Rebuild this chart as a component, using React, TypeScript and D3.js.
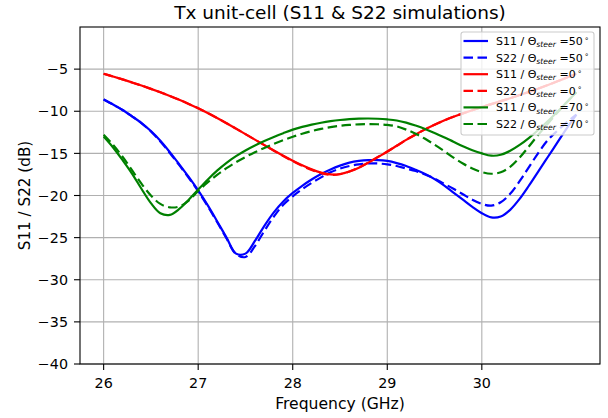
import React from "react";
import * as d3 from "d3";

const freq = [26.0, 26.1, 26.2, 26.3, 26.4, 26.5, 26.6, 26.7, 26.8, 26.9, 27.0, 27.1, 27.2, 27.3, 27.4, 27.5, 27.6, 27.7, 27.8, 27.9, 28.0, 28.1, 28.2, 28.3, 28.4, 28.5, 28.6, 28.7, 28.8, 28.9, 29.0, 29.1, 29.2, 29.3, 29.4, 29.5, 29.6, 29.7, 29.8, 29.9, 30.0, 30.1, 30.2, 30.3, 30.4, 30.5, 30.6, 30.7, 30.8, 30.9, 31.0];

const s11_50 = [-8.6, -9.2, -9.85, -10.6, -11.4, -12.35, -13.5, -14.85, -16.3, -17.8, -19.4, -21.15, -23.05, -25.0, -26.9, -26.9, -25.4, -23.6, -22.0, -20.7, -19.7, -18.85, -18.1, -17.45, -16.9, -16.45, -16.1, -15.9, -15.8, -15.8, -15.9, -16.15, -16.5, -16.95, -17.45, -18.05, -18.8, -19.65, -20.5, -21.35, -22.1, -22.6, -22.5, -21.7, -20.4, -18.8, -17.1, -15.4, -13.7, -12.0, -10.4];
const s22_50 = [-8.6, -9.2, -9.85, -10.6, -11.4, -12.4, -13.6, -14.95, -16.4, -17.9, -19.5, -21.25, -23.15, -25.1, -26.95, -27.3, -26.0, -24.2, -22.5, -21.1, -20.1, -19.25, -18.5, -17.85, -17.25, -16.8, -16.5, -16.3, -16.2, -16.2, -16.3, -16.5, -16.8, -17.1, -17.5, -18.0, -18.6, -19.2, -19.85, -20.5, -21.0, -21.2, -20.8, -19.8, -18.3, -16.6, -14.9, -13.4, -12.3, -11.3, -10.4];
const s11_0 = [-5.55, -5.88, -6.22, -6.58, -6.95, -7.34, -7.75, -8.18, -8.64, -9.13, -9.65, -10.21, -10.8, -11.42, -12.06, -12.71, -13.37, -14.02, -14.66, -15.28, -15.87, -16.42, -16.9, -17.28, -17.5, -17.45, -17.15, -16.7, -16.1, -15.45, -14.8, -14.1, -13.4, -12.75, -12.15, -11.6, -11.1, -10.65, -10.25, -9.87, -9.5, -9.15, -8.8, -8.45, -8.08, -7.7, -7.3, -6.88, -6.45, -6.0, -5.55];
const s22_0 = [-5.55, -5.88, -6.22, -6.58, -6.95, -7.34, -7.75, -8.18, -8.64, -9.13, -9.65, -10.21, -10.8, -11.42, -12.06, -12.71, -13.37, -14.02, -14.68, -15.31, -15.92, -16.48, -16.96, -17.34, -17.55, -17.48, -17.15, -16.68, -16.08, -15.43, -14.78, -14.1, -13.4, -12.75, -12.15, -11.6, -11.1, -10.65, -10.25, -9.87, -9.5, -9.15, -8.8, -8.45, -8.08, -7.7, -7.3, -6.88, -6.45, -6.0, -5.55];
const s11_70 = [-13.0, -14.3, -15.8, -17.4, -19.2, -20.9, -22.1, -22.3, -21.6, -20.5, -19.3, -18.12, -17.05, -16.12, -15.33, -14.65, -14.06, -13.53, -13.05, -12.6, -12.18, -11.85, -11.58, -11.36, -11.18, -11.04, -10.94, -10.88, -10.86, -10.89, -10.97, -11.1, -11.35, -11.7, -12.1, -12.57, -13.08, -13.62, -14.15, -14.62, -15.0, -15.27, -15.17, -14.7, -14.0, -13.15, -12.2, -11.15, -10.05, -8.9, -7.75];
const s22_70 = [-12.8, -14.0, -15.4, -17.0, -18.6, -20.0, -21.0, -21.4, -21.3, -20.6, -19.45, -18.45, -17.55, -16.75, -16.05, -15.43, -14.87, -14.35, -13.87, -13.43, -13.03, -12.67, -12.36, -12.1, -11.89, -11.73, -11.62, -11.55, -11.52, -11.54, -11.62, -11.8, -12.18, -12.67, -13.27, -13.97, -14.72, -15.5, -16.2, -16.8, -17.22, -17.42, -17.25, -16.6, -15.5, -14.15, -12.75, -11.45, -10.15, -8.92, -7.75];

const xTicks = [26, 27, 28, 29, 30];
const yTicks = [-40, -35, -30, -25, -20, -15, -10, -5];

const seriesNames = ["S11", "S22", "S11", "S22", "S11", "S22"];
const seriesAngles = ["50", "50", "0", "0", "70", "70"];
const seriesValues = [s11_50, s22_50, s11_0, s22_0, s11_70, s22_70];
const seriesColors = ["#0000ff", "#0000ff", "#ff0000", "#ff0000", "#008000", "#008000"];
const seriesDashed = [false, true, false, true, false, true];

const W = 608, H = 418;
const L = 80, R = 600, T = 27, B = 364;
const FONT = "DejaVu Sans, sans-serif";
const DASH = "9.5,4.5";

export default function App() {
  const x = d3.scaleLinear().domain([25.75, 31.25]).range([L, R]);
  const y = d3.scaleLinear().domain([-40, 0]).range([B, T]);
  const line = d3
    .line<number>()
    .x((_, i) => x(freq[i]))
    .y((v) => y(v))
    .curve(d3.curveCatmullRom.alpha(0.5));
  const fmt = (v: number) => (v < 0 ? "\u2212" + Math.abs(v) : String(v));

  const legX = 461, legY = 32, legW = 133, legH = 103;
  const rowY0 = 41, rowStep = 16.6;

  return (
    <svg width={W} height={H} style={{ position: "absolute", left: 0, top: 0, background: "#fff" }} fontFamily={FONT}>
      <rect x={0} y={0} width={W} height={H} fill="#fff" />
      {xTicks.map((t) => (
        <line key={"gx" + t} x1={x(t)} x2={x(t)} y1={T} y2={B} stroke="#b0b0b0" strokeWidth={1.1} />
      ))}
      {yTicks.map((t) => (
        <line key={"gy" + t} x1={L} x2={R} y1={y(t)} y2={y(t)} stroke="#b0b0b0" strokeWidth={1.1} />
      ))}
      {seriesValues.map((vals, i) => (
        <path
          key={"s" + i}
          d={line(vals) || ""}
          fill="none"
          stroke={seriesColors[i]}
          strokeWidth={2.2}
          strokeDasharray={seriesDashed[i] ? DASH : undefined}
        />
      ))}
      <rect x={L} y={T} width={R - L} height={B - T} fill="none" stroke="#000" strokeWidth={1.1} />
      {xTicks.map((t) => (
        <g key={"xt" + t}>
          <line x1={x(t)} x2={x(t)} y1={B} y2={B + 6} stroke="#000" strokeWidth={1.1} />
          <text x={x(t)} y={388} fontSize={14.3} textAnchor="middle" fill="#000">
            {fmt(t)}
          </text>
        </g>
      ))}
      {yTicks.map((t) => (
        <g key={"yt" + t}>
          <line x1={L - 6} x2={L} y1={y(t)} y2={y(t)} stroke="#000" strokeWidth={1.1} />
          <text x={68} y={y(t) + 5.2} fontSize={14.3} textAnchor="end" fill="#000">
            {fmt(t)}
          </text>
        </g>
      ))}
      <text x={(L + R) / 2} y={408.5} fontSize={15.6} textAnchor="middle">
        Frequency (GHz)
      </text>
      <text transform={`translate(30,${(T + B) / 2}) rotate(-90)`} fontSize={15.2} textAnchor="middle">
        S11 / S22 (dB)
      </text>
      <text x={(L + R) / 2} y={19} fontSize={18.5} textAnchor="middle">
        Tx unit-cell (S11 &amp; S22 simulations)
      </text>
      <rect x={legX} y={legY} width={legW} height={legH} rx={2.5} fill="#fff" fillOpacity={0.8} stroke="#cccccc" strokeWidth={1.1} />
      {seriesNames.map((n, i) => {
        const ry = rowY0 + i * rowStep;
        return (
          <g key={"lg" + i}>
            <line
              x1={463.5}
              x2={488}
              y1={ry}
              y2={ry}
              stroke={seriesColors[i]}
              strokeWidth={2.2}
              strokeDasharray={seriesDashed[i] ? DASH : undefined}
            />
            <text x={496} y={ry + 4} fontSize={11} fill="#000">
              <tspan>{n} / Θ</tspan>
              <tspan fontSize={7.7} fontStyle="italic" dy={2.2}>steer</tspan>
              <tspan dy={-2.2}>{" =" + seriesAngles[i]}</tspan>
              <tspan fontSize={7.7} dy={-4.5} dx={1.5}>∘</tspan>
            </text>
          </g>
        );
      })}
    </svg>
  );
}
